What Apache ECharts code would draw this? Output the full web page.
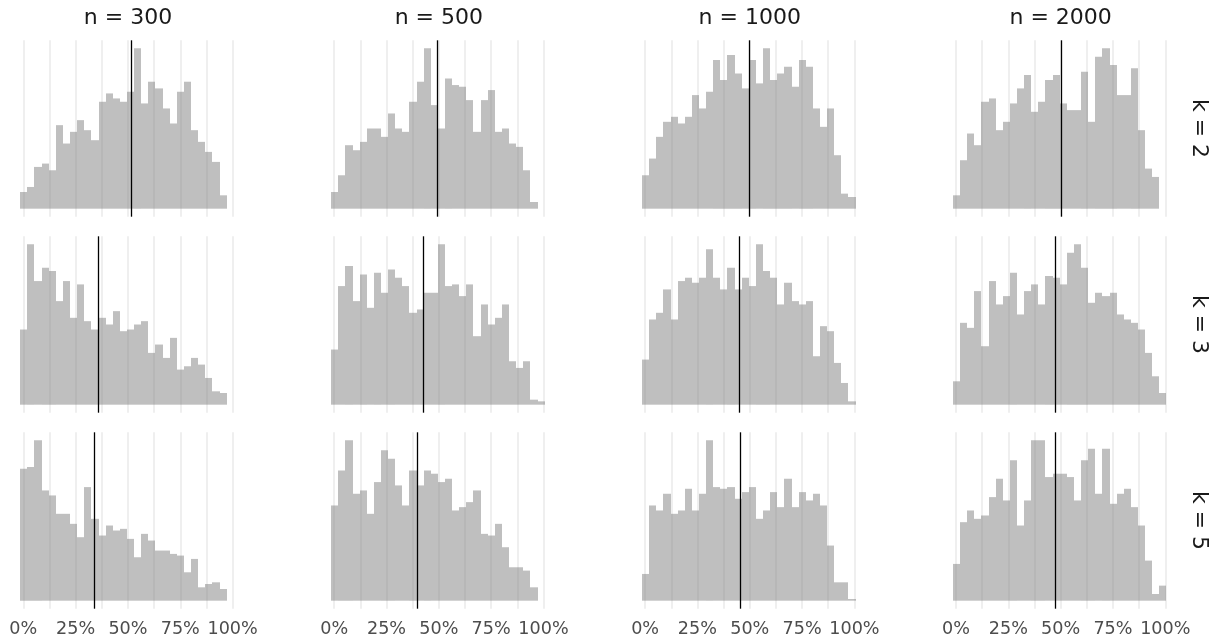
<!DOCTYPE html>
<html>
<head>
<meta charset="utf-8">
<script src="https://cdn.jsdelivr.net/npm/echarts@6/dist/echarts.min.js"></script>
<style>
  html, body { margin: 0; padding: 0; background: #ffffff; }
  #chart { width: 1217px; height: 644px; }
</style>
</head>
<body>
<div id="chart"></div>
<script>
// Facet labels
const sampleSizes = ['n = 300', 'n = 500', 'n = 1000', 'n = 2000'];
const kLabels = ['k = 2', 'k = 3', 'k = 5'];
const tickValues = [0, 25, 50, 75, 100];

// Shared histogram bins (in percent)
const binStart = -1.45;
const binWidth = 3.4;

// Bin counts, one array per facet (k, n)
const k2_n300  = [10,13,25,27,23,50,39,46,53,47,41,64,69,66,64,70,96,63,76,72,60,51,70,76,47,40,34,28,8,0];
const k2_n500  = [10,20,38,35,40,48,48,43,57,48,46,64,76,96,62,48,78,74,73,65,46,65,71,46,48,39,37,23,4,0];
const k2_n1000 = [20,30,43,52,55,51,55,68,60,70,89,77,92,81,72,89,75,96,77,81,85,73,89,85,60,49,60,32,9,7];
const k2_n2000 = [8,29,45,38,64,66,47,52,63,72,80,58,64,77,80,63,59,59,82,52,91,96,86,68,68,84,47,24,19,0];

const k3_n300  = [45,96,74,82,80,62,74,52,72,50,45,52,48,56,44,45,48,50,31,36,28,40,21,23,28,24,16,8,7,0];
const k3_n500  = [33,71,83,62,78,58,79,67,81,76,71,55,57,67,67,96,71,72,65,72,41,60,48,52,60,26,22,26,3,2];
const k3_n1000 = [27,51,55,69,51,74,76,73,76,93,76,69,82,69,76,71,96,80,76,60,73,62,60,62,29,47,44,25,13,2];
const k3_n2000 = [14,49,46,68,35,74,60,65,79,54,68,72,60,77,76,72,91,96,82,61,67,65,67,54,51,49,45,31,17,7];

const k5_n300  = [79,80,96,66,63,52,52,46,38,68,49,39,45,42,43,37,26,40,36,30,30,28,27,17,25,8,10,11,7,0];
const k5_n500  = [57,78,96,64,66,52,71,90,85,69,57,78,69,78,76,71,73,54,56,59,66,40,39,46,32,20,20,18,8,0];
const k5_n1000 = [16,57,54,64,52,54,67,54,64,96,68,67,68,61,65,68,49,54,65,56,73,56,65,60,64,57,33,11,11,1];
const k5_n2000 = [22,47,54,49,51,62,73,60,84,45,60,96,96,74,76,76,74,60,84,91,64,91,58,64,67,56,45,24,4,9];

// Mean of each facet (percent), drawn as a vertical line
const meanK2 = [51.4, 49.0, 49.7, 50.1];
const meanK3 = [35.7, 42.4, 44.9, 47.4];
const meanK5 = [33.9, 39.6, 45.5, 47.4];

const panelCounts = [
  [k2_n300, k2_n500, k2_n1000, k2_n2000],
  [k3_n300, k3_n500, k3_n1000, k3_n2000],
  [k5_n300, k5_n500, k5_n1000, k5_n2000]
];
const panelMeans = [meanK2, meanK3, meanK5];

// Layout
const FONT = "'DejaVu Sans', 'Noto Sans', sans-serif";
const PX_PER_PCT = 2.093;
const COL_ZERO = 23.3;      // x pixel of 0% in the first column
const COL_STEP = 310.9;
const ROW_TOPS = [40.3, 236.3, 432.3];
const ROW_H = 176.4;
const X_MIN = -12.5, X_MAX = 112.5, X_STEP = 12.5;

const chart = echarts.init(document.getElementById('chart'), null, { renderer: 'canvas' });

const grids = [], xAxes = [], yAxes = [], series = [], graphics = [];

panelCounts.forEach((rowArr, r) => {
  rowArr.forEach((counts, c) => {
    const idx = grids.length;
    const zeroX = COL_ZERO + c * COL_STEP;
    grids.push({
      left: zeroX + X_MIN * PX_PER_PCT,
      top: ROW_TOPS[r],
      width: (X_MAX - X_MIN) * PX_PER_PCT,
      height: ROW_H,
      containLabel: false,
      outerBoundsMode: 'none'
    });
    xAxes.push({
      type: 'value', gridIndex: idx,
      min: X_MIN, max: X_MAX, interval: X_STEP,
      axisLine: { show: false }, axisTick: { show: false },
      splitLine: {
        show: true, showMinLine: false, showMaxLine: false,
        lineStyle: { color: '#ebebeb', width: 1.6 }
      },
      axisLabel: {
        show: r === panelCounts.length - 1,
        showMinLabel: false, showMaxLabel: false,
        margin: 12,
        color: '#4d4d4d', fontSize: 17.6, fontFamily: FONT,
        formatter: v => (tickValues.indexOf(v) >= 0 ? v + '%' : '')
      }
    });
    const peak = Math.max.apply(null, counts);
    yAxes.push({
      type: 'value', gridIndex: idx, show: false,
      min: -0.05 * peak, max: 1.05 * peak,
      splitLine: { show: false }
    });
    const data = counts.map((v, i) => [binStart + i * binWidth, binStart + (i + 1) * binWidth, v]);
    series.push({
      type: 'custom', xAxisIndex: idx, yAxisIndex: idx,
      encode: { x: [0, 1], y: 2 },
      data: data,
      silent: true,
      renderItem: (params, api) => {
        const top = api.coord([api.value(0), api.value(2)]);
        const base = api.coord([api.value(1), 0]);
        const x0 = Math.round(top[0]), x1 = Math.round(base[0]);
        return {
          type: 'rect',
          shape: { x: x0, y: top[1], width: x1 - x0, height: base[1] - top[1] },
          style: { fill: 'rgba(127,127,127,0.5)' }
        };
      },
      markLine: {
        silent: true, symbol: ['none', 'none'],
        label: { show: false },
        lineStyle: { color: '#000000', width: 1.3, type: 'solid' },
        data: [{ xAxis: panelMeans[r][c] }]
      }
    });
  });
});

// Column strip labels
sampleSizes.forEach((t, c) => {
  graphics.push({
    type: 'text',
    x: COL_ZERO + c * COL_STEP + 50 * PX_PER_PCT, y: 18,
    style: {
      text: t, fill: '#1a1a1a', font: '22px ' + FONT,
      align: 'center', verticalAlign: 'middle',
      textAlign: 'center', textVerticalAlign: 'middle'
    }
  });
});
// Row strip labels (rotated)
kLabels.forEach((t, r) => {
  graphics.push({
    type: 'text',
    x: 1199, y: ROW_TOPS[r] + ROW_H / 2,
    rotation: -Math.PI / 2,
    style: {
      text: t, fill: '#1a1a1a', font: '22px ' + FONT,
      align: 'center', verticalAlign: 'middle',
      textAlign: 'center', textVerticalAlign: 'middle'
    }
  });
});

chart.setOption({
  animation: false,
  backgroundColor: '#ffffff',
  grid: grids,
  xAxis: xAxes,
  yAxis: yAxes,
  series: series,
  graphic: graphics
});
</script>
</body>
</html>
